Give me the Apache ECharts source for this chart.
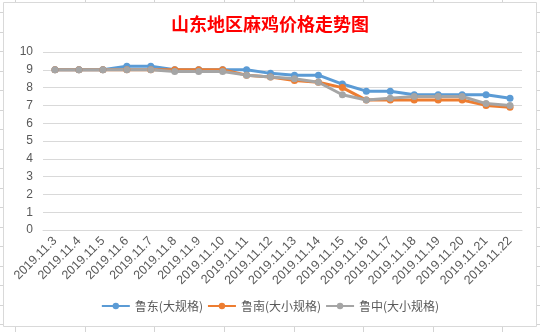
<!DOCTYPE html>
<html><head><meta charset="utf-8">
<script src="https://cdn.jsdelivr.net/npm/echarts@6/dist/echarts.min.js"></script>
<style>html,body{margin:0;padding:0;background:#fff;}#c{width:540px;height:332px;}</style>
</head><body><div id="c"></div>
<script>
const categories = ['2019.11.3','2019.11.4','2019.11.5','2019.11.6','2019.11.7','2019.11.8','2019.11.9','2019.11.10','2019.11.11','2019.11.12','2019.11.13','2019.11.14','2019.11.15','2019.11.16','2019.11.17','2019.11.18','2019.11.19','2019.11.20','2019.11.21','2019.11.22'];
const ludong = [9,9,9,9.2,9.2,9.0,9.0,9.0,9.0,8.8,8.7,8.7,8.2,7.8,7.8,7.6,7.6,7.6,7.6,7.4];
const lunan = [9,9,9,9.0,9.0,9.0,9.0,9.0,8.7,8.6,8.4,8.3,8.0,7.3,7.3,7.3,7.3,7.3,7.0,6.9];
const luzhong = [9,9,9,9.0,9.0,8.9,8.9,8.9,8.7,8.6,8.5,8.3,7.6,7.3,7.4,7.5,7.5,7.5,7.1,7.0];
const seriesNames = ['鲁东(大规格)','鲁南(大小规格)','鲁中(大小规格)'];
const colors = ['#5B9BD5','#ED7D31','#A5A5A5'];

// spreadsheet background decoration
const deco = [];
[15,85,154,224,294,363,433,502].forEach(x=>{
  deco.push({type:'line',shape:{x1:x+0.5,y1:0,x2:x+0.5,y2:3},style:{stroke:'#d4d4d4',lineWidth:1},silent:true});
  deco.push({type:'line',shape:{x1:x+0.5,y1:327,x2:x+0.5,y2:332},style:{stroke:'#d4d4d4',lineWidth:1},silent:true});
});
for(let y=12;y<332;y+=19.5){
  deco.push({type:'line',shape:{x1:0,y1:Math.round(y)+0.5,x2:3,y2:Math.round(y)+0.5},style:{stroke:'#d4d4d4',lineWidth:1},silent:true});
  deco.push({type:'line',shape:{x1:537,y1:Math.round(y)+0.5,x2:540,y2:Math.round(y)+0.5},style:{stroke:'#d4d4d4',lineWidth:1},silent:true});
}
deco.push({type:'rect',shape:{x:3.5,y:2.5,width:533,height:324},style:{fill:'none',stroke:'#d9d9d9',lineWidth:1},silent:true});

const chart = echarts.init(document.getElementById('c'), null, {renderer:'canvas'});
chart.setOption({
  animation:false,
  backgroundColor:'#fff',
  color: colors,
  title:{text:'山东地区麻鸡价格走势图',left:'center',top:10,
    textStyle:{color:'#FF0000',fontSize:18,fontWeight:'bold',fontFamily:'Noto Sans CJK SC'}},
  grid:{left:43,right:18,top:52,bottom:102},
  legend:{bottom:15,left:'center',itemWidth:28,itemHeight:8,itemGap:4,
    textStyle:{color:'#595959',fontSize:12,fontFamily:'Noto Sans CJK SC'},
    data:seriesNames},
  xAxis:{type:'category',data:categories,boundaryGap:true,
    axisLine:{lineStyle:{color:'#d9d9d9'}},axisTick:{show:false},
    axisLabel:{rotate:45,interval:0,color:'#595959',fontSize:12.5,fontFamily:'Liberation Sans',margin:9}},
  yAxis:{type:'value',min:0,max:10,interval:1,
    axisLine:{show:false},axisTick:{show:false},
    axisLabel:{color:'#595959',fontSize:12,fontFamily:'Liberation Sans',margin:10},
    splitLine:{lineStyle:{color:'#d9d9d9'}}},
  series:[
    {name:seriesNames[0],type:'line',data:ludong,symbol:'circle',symbolSize:7,lineStyle:{width:3},itemStyle:{color:colors[0]}},
    {name:seriesNames[1],type:'line',data:lunan,symbol:'circle',symbolSize:7,lineStyle:{width:3},itemStyle:{color:colors[1]}},
    {name:seriesNames[2],type:'line',data:luzhong,symbol:'circle',symbolSize:7,lineStyle:{width:3},itemStyle:{color:colors[2]}}
  ],
  graphic: deco
});
</script></body></html>
